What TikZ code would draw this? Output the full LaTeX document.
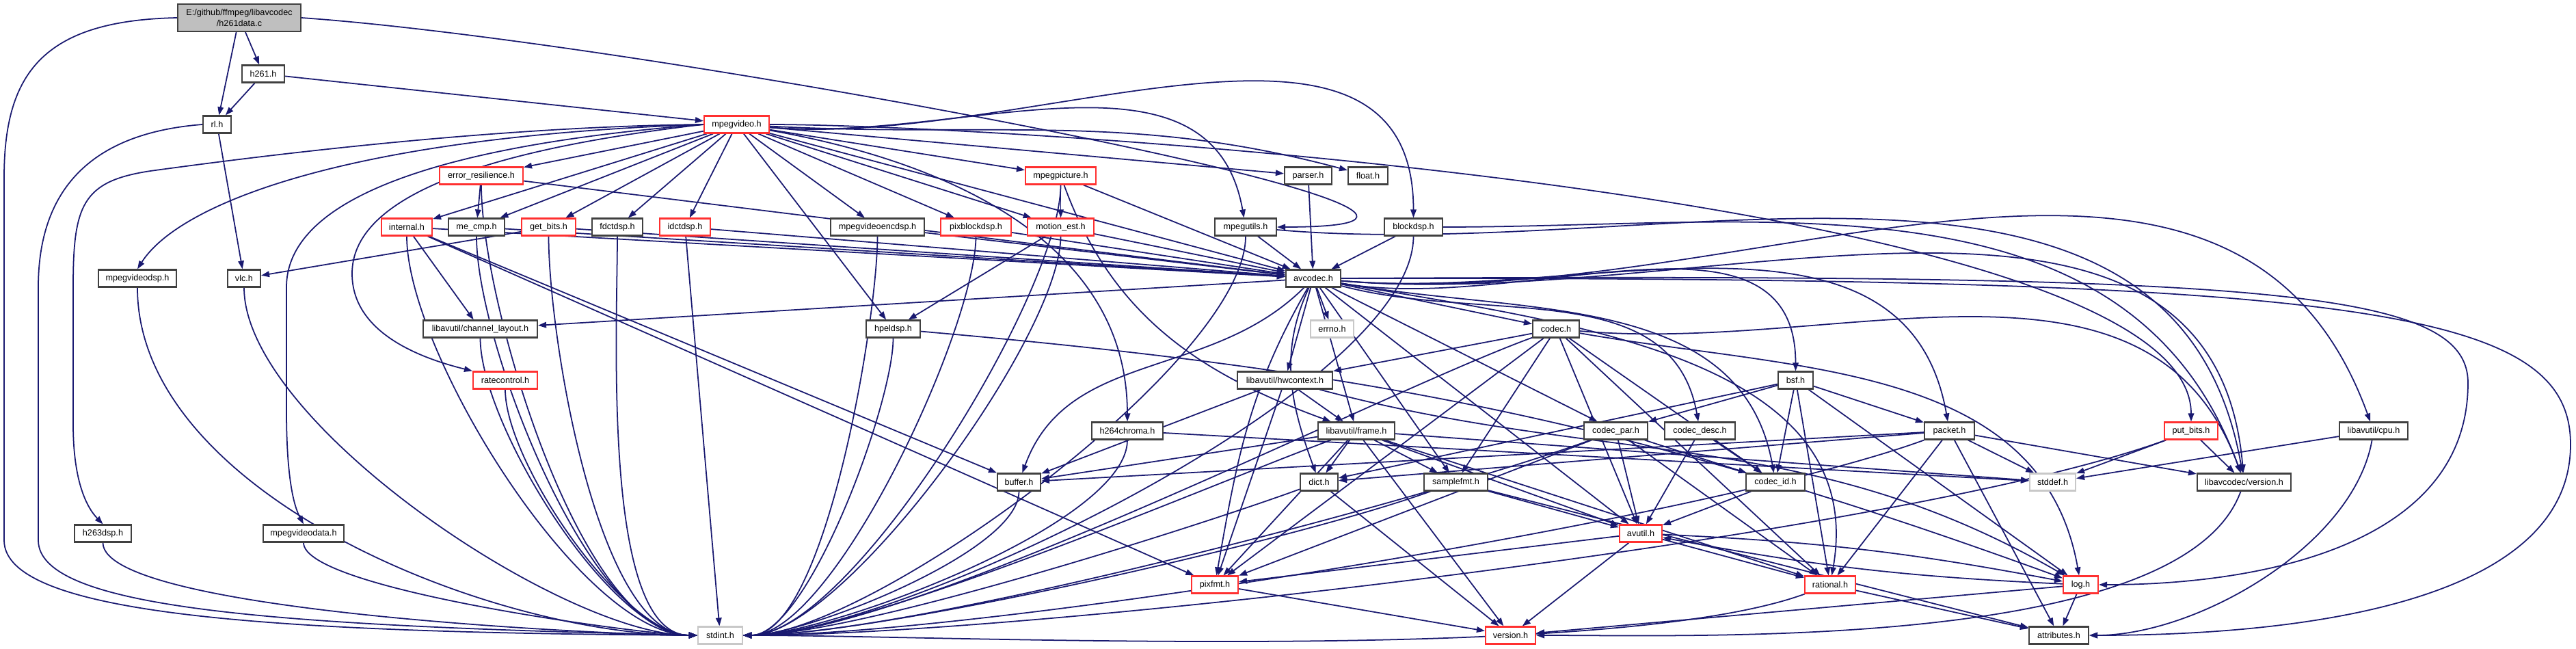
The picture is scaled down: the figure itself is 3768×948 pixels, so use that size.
\documentclass[tikz,border=0pt]{standalone}
\usepackage{fontspec}
\setmainfont{Liberation Sans}
\usetikzlibrary{arrows.meta}
\pgfdeclarelayer{back}
\pgfdeclarelayer{bg}
\pgfsetlayers{back,bg,main}
\definecolor{edgec}{HTML}{191970}
\definecolor{redb}{HTML}{FF3030}
\definecolor{grayb}{HTML}{C8C8C8}
\definecolor{blkb}{HTML}{404040}
\definecolor{rootf}{HTML}{BFBFBF}
\newcommand\mknode[6]{\node[#5,minimum width=#3*0.01cm] (#1) at (#2,#4) {#6};}
\begin{document}
\begin{tikzpicture}[x=0.01cm,y=-0.01cm,
  nbase/.style={draw, fill=white, line width=0.6pt, inner sep=0pt, minimum height=0.25cm, font=\fontsize{3.6pt}{4.3pt}\selectfont, text=black},
  bk/.style={nbase, draw=blkb},
  rd/.style={nbase, draw=redb},
  gy/.style={nbase, draw=grayb},
  rt/.style={nbase, draw=blkb, fill=rootf, minimum height=0.4cm, align=center},
  edg/.style={draw=edgec, line width=0.5pt, -{Triangle[length=0.12cm,width=0.085cm]}},
  sl/.style={out=-90,in=180,looseness=0.6},
  sr/.style={out=-90,in=0,looseness=0.5},
  sf/.style={out=200,in=0,looseness=0.5},
]
\begin{pgfonlayer}{back}
\fill[white] (0,0) rectangle (3768,948);
\end{pgfonlayer}
\useasboundingbox (0,0) rectangle (3768,948);
% nodes
\mknode{root}{350}{180}{26}{rt}{E:/github/ffmpeg/libavcodec\\/h261data.c}
\mknode{h261}{385}{62}{108}{bk}{h261.h}
\mknode{rl}{317.5}{41}{182}{bk}{rl.h}
\mknode{mpegvideo}{1077.5}{95}{182}{rd}{mpegvideo.h}
\mknode{errres}{704}{122}{257}{rd}{error\_resilience.h}
\mknode{mpegpicture}{1551.5}{103}{257}{rd}{mpegpicture.h}
\mknode{parser}{1913.5}{69}{257}{bk}{parser.h}
\mknode{float}{2001}{58}{257}{bk}{float.h}
\mknode{internal}{595}{74}{332}{rd}{internal.h}
\mknode{mecmp}{697}{82}{332}{bk}{me\_cmp.h}
\mknode{getbits}{802.5}{79}{332}{rd}{get\_bits.h}
\mknode{fdctdsp}{903}{74}{332}{bk}{fdctdsp.h}
\mknode{idctdsp}{1002}{74}{332}{rd}{idctdsp.h}
\mknode{mpvencdsp}{1283.5}{137}{332}{bk}{mpegvideoencdsp.h}
\mknode{pixblockdsp}{1427.5}{103}{332}{rd}{pixblockdsp.h}
\mknode{motionest}{1551.5}{97}{332}{rd}{motion\_est.h}
\mknode{mpegutils}{1822}{90}{332}{bk}{mpegutils.h}
\mknode{blockdsp}{2067.5}{85}{332}{bk}{blockdsp.h}
\mknode{mpvdsp}{201}{114}{407}{bk}{mpegvideodsp.h}
\mknode{vlc}{357}{48}{407}{bk}{vlc.h}
\mknode{avcodec}{1921}{80}{407}{bk}{avcodec.h}
\mknode{chlayout}{702.5}{167}{481}{bk}{libavutil/channel\_layout.h}
\mknode{hpeldsp}{1306.5}{79}{481}{bk}{hpeldsp.h}
\mknode{errno}{1948.5}{63}{481}{gy}{errno.h}
\mknode{codec}{2276}{68}{481}{bk}{codec.h}
\mknode{ratecontrol}{739}{94}{556}{rd}{ratecontrol.h}
\mknode{hwcontext}{1879.5}{139}{556}{bk}{libavutil/hwcontext.h}
\mknode{bsf}{2626.5}{51}{556}{bk}{bsf.h}
\mknode{h264chroma}{1649}{104}{630}{bk}{h264chroma.h}
\mknode{frame}{1984}{112}{630}{bk}{libavutil/frame.h}
\mknode{codecpar}{2363.5}{93}{630}{bk}{codec\_par.h}
\mknode{codecdesc}{2486.5}{103}{630}{bk}{codec\_desc.h}
\mknode{packet}{2851.5}{73}{630}{bk}{packet.h}
\mknode{putbits}{3205}{78}{630}{rd}{put\_bits.h}
\mknode{cpu}{3472}{100}{630}{bk}{libavutil/cpu.h}
\mknode{buffer}{1490.5}{63}{705}{bk}{buffer.h}
\mknode{dict}{1929.5}{55}{705}{bk}{dict.h}
\mknode{samplefmt}{2129.5}{93}{705}{bk}{samplefmt.h}
\mknode{codecid}{2597}{86}{705}{bk}{codec\_id.h}
\mknode{stddef}{3002.5}{67}{705}{gy}{stddef.h}
\mknode{lcversion}{3282.5}{137}{705}{bk}{libavcodec/version.h}
\mknode{h263dsp}{150.5}{83}{780}{bk}{h263dsp.h}
\mknode{mpvdata}{444}{118}{780}{bk}{mpegvideodata.h}
\mknode{avutil}{2400}{62}{780}{rd}{avutil.h}
\mknode{pixfmt}{1777}{68}{855}{rd}{pixfmt.h}
\mknode{rational}{2677}{74}{855}{rd}{rational.h}
\mknode{log}{3043.5}{51}{855}{rd}{log.h}
\mknode{stdint}{1053.5}{65}{929}{gy}{stdint.h}
\mknode{version}{2209.5}{73}{929}{rd}{version.h}
\mknode{attributes}{3011.5}{87}{929}{bk}{attributes.h}
% edges
\begin{pgfonlayer}{bg}
% root
\draw[edg] (root) -- (h261);
\draw[edg] (root) -- (rl);
\draw[edg] (root.west) .. controls (60,30) and (6,110) .. (6,260) -- (6,790) .. controls (6,900) and (400,925) .. (stdint.west);
\draw[edg] (root.east) to[out=-4,in=0,looseness=0.9] (mpegutils.east);
% h261, rl
\draw[edg] (h261) -- (rl);
\draw[edg] (h261) -- (mpegvideo);
\draw[edg] (rl) -- (vlc);
\draw[edg] (rl.west) .. controls (130,195) and (56,280) .. (56,420) -- (56,790) .. controls (56,890) and (400,915) .. (stdint.west);
% mpegvideo
\foreach \tg in {errres,internal,mecmp,getbits,fdctdsp,idctdsp,mpvencdsp,pixblockdsp,motionest,mpegpicture,parser,avcodec,hpeldsp}
  \draw[edg] (mpegvideo) -- (\tg);
\draw[edg] (mpegvideo) to[out=-3,in=165] (float);
\draw[edg] (mpegvideo) to[out=-5,in=100] (mpegutils);
\draw[edg] (mpegvideo) to[out=-5,in=90] (blockdsp);
\draw[edg] (mpegvideo) to[out=-10,in=90] (h264chroma);
\draw[edg] (mpegvideo.east) to[out=0,in=90,looseness=0.4] (putbits);
\draw[edg] (mpegvideo.west) .. controls (500,200) and (260,300) .. (mpvdsp.north);
\draw[edg] (mpegvideo.west) .. controls (700,185) and (330,235) .. (220,250) .. controls (120,265) and (107,300) .. (107,420) -- (107,620) .. controls (107,700) and (125,740) .. (h263dsp.north);
\draw[edg] (mpegvideo.west) .. controls (800,200) and (419,250) .. (419,420) -- (419,600) .. controls (419,700) and (430,740) .. (mpvdata.north);
\draw[edg] (mpegvideo.west) .. controls (700,220) and (515,290) .. (515,400) .. controls (515,480) and (600,520) .. (ratecontrol.north west);
% left sources into stdint
\draw[edg] (mpvdsp) to[out=-90,in=180,looseness=0.8] (stdint);
\draw[edg] (h263dsp) to[out=-90,in=180,looseness=0.3] (stdint);
\draw[edg] (mpvdata) to[out=-90,in=180,looseness=0.3] (stdint);
\foreach \src in {vlc,internal,errres,chlayout,ratecontrol,mecmp,getbits,fdctdsp}
  \draw[edg] (\src) to[sl] (stdint);
\draw[edg] (idctdsp) -- (stdint);
\foreach \src in {mpvencdsp,pixblockdsp,motionest,mpegpicture,hpeldsp,h264chroma,buffer,mpegutils,blockdsp}
  \draw[edg] (\src) to[sr] (stdint);
\foreach \src in {codec,codecpar,frame,dict,samplefmt,packet,putbits,rational}
  \draw[edg] (\src) to[sf] (stdint);
% avcodec
\foreach \tg in {errno,samplefmt,avutil,chlayout,frame,hwcontext,codec,codecpar}
  \draw[edg] (avcodec) -- (\tg);
\draw[edg] (avcodec) to[out=-115,in=110] (dict);
\draw[edg] (avcodec) to[out=-120,in=80] (pixfmt);
\draw[edg] (avcodec) to[out=-135,in=70] (buffer);
\draw[edg] (avcodec) to[out=-10,in=90] (bsf);
\draw[edg] (avcodec) to[out=-15,in=100] (codecdesc);
\draw[edg] (avcodec) to[out=-10,in=100] (codecid);
\draw[edg] (avcodec) to[out=-5,in=100] (packet);
\draw[edg] (avcodec) to[out=-5,in=95] (lcversion);
\draw[edg] (avcodec) to[out=-5,in=110] (cpu);
\draw[edg] (avcodec) to[out=-10,in=80] (rational);
\draw[edg] (avcodec.east) .. controls (3300,400) and (3610,420) .. (3610,560) .. controls (3610,800) and (3300,855) .. (log.east);
\draw[edg] (avcodec.east) .. controls (3450,405) and (3760,450) .. (3760,650) .. controls (3760,900) and (3300,929) .. (attributes.east);
% codec
\foreach \tg in {avutil,hwcontext,pixfmt,rational,samplefmt,codecid}
  \draw[edg] (codec) -- (\tg);
\draw[edg] (codec) to[out=-10,in=100] (log);
\draw[edg] (codec) to[out=-5,in=110] (lcversion);
% bsf
\foreach \tg in {dict,log,rational,codecid,codecpar,packet}
  \draw[edg] (bsf) -- (\tg);
% codec_par, codec_desc, codec_id
\foreach \tg in {avutil,rational,pixfmt,codecid}
  \draw[edg] (codecpar) -- (\tg);
\draw[edg] (codecdesc) -- (avutil);
\draw[edg] (codecdesc) -- (codecid);
\draw[edg] (codecid) -- (avutil);
% packet
\foreach \tg in {stddef,attributes,buffer,dict,rational,lcversion}
  \draw[edg] (packet) -- (\tg);
% hwcontext
\foreach \tg in {buffer,frame,pixfmt}
  \draw[edg] (hwcontext) -- (\tg);
\draw[edg] (hwcontext) to[out=-15,in=150] (log);
% frame
\foreach \tg in {stddef,avutil,buffer,dict,rational,samplefmt,pixfmt,version}
  \draw[edg] (frame) -- (\tg);
% others
\draw[edg] (dict) -- (version);
\draw[edg] (samplefmt) -- (avutil);
\draw[edg] (samplefmt) -- (attributes);
\draw[edg] (avutil) -- (version);
\draw[edg] (avutil) -- (rational);
\draw[edg] (avutil) -- (pixfmt);
\draw[edg] (avutil) to[bend left=4] (log);
\draw[edg] (log) to[bend left=4] (avutil);
\draw[edg] (log) -- (attributes);
\draw[edg] (log) -- (version);
\draw[edg] (rational) -- (attributes);
\draw[edg] (pixfmt) -- (version);
\draw[edg] (cpu) -- (stddef);
\draw[edg] (cpu) to[out=-100,in=0,looseness=0.8] (attributes);
\draw[edg] (lcversion) to[out=-110,in=0,looseness=0.6] (version);
\draw[edg] (putbits) -- (stddef);
\draw[edg] (putbits) -- (lcversion);
\draw[edg] (errres) -- (mecmp);
\draw[edg] (errres) -- (avcodec);
\foreach \tg in {chlayout,buffer,pixfmt,avcodec}
  \draw[edg] (internal) -- (\tg);
\draw[edg] (mecmp) -- (avcodec);
\draw[edg] (getbits) -- (vlc);
\draw[edg] (getbits) -- (avcodec);
\draw[edg] (idctdsp) -- (avcodec);
\draw[edg] (mpvencdsp) -- (avcodec);
\draw[edg] (pixblockdsp) -- (avcodec);
\draw[edg] (motionest) -- (avcodec);
\draw[edg] (motionest) -- (hpeldsp);
\draw[edg] (mpegpicture) -- (avcodec);
\draw[edg] (mpegpicture) -- (motionest);
\draw[edg] (mpegpicture) to[out=-70,in=160] (frame);
\draw[edg] (mpegutils) -- (avcodec);
\draw[edg] (mpegutils) to[out=-5,in=100] (lcversion);
\draw[edg] (parser) -- (avcodec);
\draw[edg] (blockdsp) -- (avcodec);
\draw[edg] (blockdsp) to[out=0,in=110] (lcversion);
\draw[edg] (hpeldsp) to[out=-5,in=160] (log);
\draw[edg] (h264chroma) -- (stddef);
\end{pgfonlayer}
\end{tikzpicture}
\end{document}
